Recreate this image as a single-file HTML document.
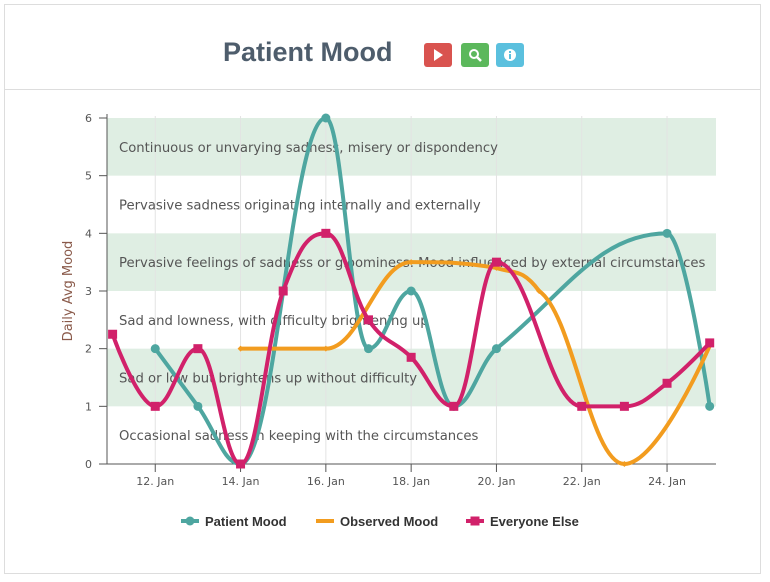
<!DOCTYPE html>
<html><head><meta charset="utf-8"><style>
body{margin:0;background:#fff;font-family:"Liberation Sans",sans-serif;}
#card{position:absolute;left:4px;top:4px;width:757px;height:570px;border:1px solid #ddd;box-sizing:border-box;}
#hdr{position:absolute;left:0;top:0;width:100%;height:84px;border-bottom:1px solid #ddd;}
#title{position:absolute;left:218px;top:32px;font-size:27px;font-weight:bold;color:#4e5d6c;}
.btn{position:absolute;top:38px;width:28px;height:24px;border-radius:3px;}
</style></head><body>
<div id="card">
<div id="hdr">
<div id="title">Patient Mood</div>
<div class="btn" style="left:419px;background:#d9534f"><svg width="28" height="24"><polygon points="10,6 19,12 10,18" fill="#fff"/></svg></div>
<div class="btn" style="left:456px;background:#5cb85c"><svg width="28" height="24"><circle cx="13" cy="11" r="4" fill="none" stroke="#fff" stroke-width="2"/><line x1="16" y1="14" x2="20" y2="18" stroke="#fff" stroke-width="2.5"/></svg></div>
<div class="btn" style="left:491px;background:#5bc0de"><svg width="28" height="24"><circle cx="14" cy="12" r="6" fill="#fff"/><rect x="13" y="11" width="2" height="5" fill="#5bc0de"/><rect x="13" y="8" width="2" height="2" fill="#5bc0de"/></svg></div>
</div>
</div>
<svg id="chart" width="770" height="582" style="position:absolute;left:0;top:0;font-family:'DejaVu Sans',sans-serif"></svg>
<script>
const days=[11,12,13,14,15,16,17,18,19,20,21,22,23,24,25];
const tickDays=[12,14,16,18,20,22,24];
const tickLabels=["12. Jan","14. Jan","16. Jan","18. Jan","20. Jan","22. Jan","24. Jan"];
const yTicks=[0,1,2,3,4,5,6];
const bandLabels=["Occasional sadness in keeping with the circumstances","Sad or low but brightens up without difficulty","Sad and lowness, with difficulty brightening up","Pervasive feelings of sadness or gloominess. Mood influenced by external circumstances","Pervasive sadness originating internally and externally","Continuous or unvarying sadness, misery or dispondency"];
const patientDays=[12,13,14,16,17,18,19,20,24,25];
const patientVals=[2,1,0,6,2,3,1,2,4,1];
const observedDays=[14,16,18,20,21,23,25];
const observedVals=[2,2,3.5,3.4,3,0,2.05];
const everyoneDays=[11,12,13,14,15,16,17,18,19,20,22,23,24,25];
const everyoneVals=[2.25,1,2,0,3,4,2.5,1.85,1,3.5,1,1,1.4,2.1];
const L=107,R=716,T=118,B=464;
const xS=d=>112.6+(d-11)*42.65;
const yS=v=>B-v*(B-T)/6;
const svg=document.getElementById('chart');
const NS='http://www.w3.org/2000/svg';
function mk(t,a,p){const e=document.createElementNS(NS,t);for(const k in a)e.setAttribute(k,a[k]);(p||svg).appendChild(e);return e;}
for(let i=0;i<6;i++){if(i%2===1){const r=mk('rect',{x:L,y:yS(i+1),width:R-L,height:yS(i)-yS(i+1),fill:'#dfeee3'});

}}
tickDays.forEach((d,i)=>{const l=mk('line',{x1:xS(d),x2:xS(d),y1:T-2,y2:B,stroke:'#e3e3e3'});


const t=mk('text',{x:xS(d),y:B+21,'text-anchor':'middle','font-size':11,fill:'#555'});t.textContent=tickLabels[i];


mk('line',{x1:xS(d),x2:xS(d),y1:B,y2:B+8,stroke:'#555'});});
yTicks.forEach(v=>{const t=mk('text',{x:L-15,y:yS(v)+4,'text-anchor':'end','font-size':11,fill:'#555'});t.textContent=v;


mk('line',{x1:L-8,x2:L,y1:yS(v),y2:yS(v),stroke:'#555'});});
mk('line',{x1:L,x2:L,y1:T-4,y2:B,stroke:'#555'});
mk('line',{x1:L,x2:R,y1:B,y2:B,stroke:'#555'});
const yt=mk('text',{x:72,y:291,'text-anchor':'middle','font-size':13,fill:'#8a5a4a',transform:'rotate(-90 72 291)'});yt.textContent='Daily Avg Mood';


bandLabels.forEach((s,i)=>{const t=mk('text',{x:119,y:yS(i+0.5)+5,'font-size':13.2,fill:'#555'});t.textContent=s;

});
function spline(pts){const sm=1.5,dn=sm+1;let d='M'+pts[0][0]+' '+pts[0][1];
const ctl=[];
for(let i=0;i<pts.length;i++){const [x,y]=pts[i];if(i===0||i===pts.length-1){ctl.push([[x,y],[x,y]]);continue;}
const [lx,ly]=pts[i-1],[nx,ny]=pts[i+1];let lcx=(sm*x+lx)/dn,lcy=(sm*y+ly)/dn,rcx=(sm*x+nx)/dn,rcy=(sm*y+ny)/dn;
const c=((rcy-lcy)*(rcx-x))/(rcx-lcx)+y-rcy;lcy+=c;rcy+=c;
if(lcy>ly&&lcy>y){lcy=Math.max(ly,y);rcy=2*y-lcy;}else if(lcy<ly&&lcy<y){lcy=Math.min(ly,y);rcy=2*y-lcy;}
if(rcy>ny&&rcy>y){rcy=Math.max(ny,y);lcy=2*y-rcy;}else if(rcy<ny&&rcy<y){rcy=Math.min(ny,y);lcy=2*y-rcy;}
ctl.push([[lcx,lcy],[rcx,rcy]]);}
for(let i=1;i<pts.length;i++){d+=` C${ctl[i-1][1][0]} ${ctl[i-1][1][1]} ${ctl[i][0][0]} ${ctl[i][0][1]} ${pts[i][0]} ${pts[i][1]}`;}
return d;}
function series(ds,vs,color,marker,name){const pts=ds.map((d,i)=>[xS(d),yS(vs[i])]);
const p=mk('path',{d:spline(pts),fill:'none',stroke:color,'stroke-width':4,'stroke-linejoin':'round'});


pts.forEach(([x,y])=>{let m;if(marker==='c')m=mk('circle',{cx:x,cy:y,r:4.5,fill:color});
else if(marker==='s')m=mk('rect',{x:x-4.5,y:y-4.5,width:9,height:9,fill:color});
else m=mk('polygon',{points:`${x},${y-3} ${x+3},${y} ${x},${y+3} ${x-3},${y}`,fill:color});

});}
series(patientDays,patientVals,'#4ea6a0','c','patient-mood');
series(observedDays,observedVals,'#f29c1f','d','observed-mood');
series(everyoneDays,everyoneVals,'#d1216a','s','everyone-else');
const leg=[['Patient Mood','#4ea6a0','c',181],['Observed Mood','#f29c1f','d',316],['Everyone Else','#d1216a','s',466]];
leg.forEach(([s,c,m,x])=>{const g=mk('g',{});


mk('line',{x1:x,x2:x+18,y1:521,y2:521,stroke:c,'stroke-width':4},g);
if(m==='c')mk('circle',{cx:x+9,cy:521,r:4.5,fill:c},g);else if(m==='s')mk('rect',{x:x+4.5,y:516.5,width:9,height:9,fill:c},g);
const t=mk('text',{x:x+24,y:526,'font-size':13,'font-weight':'bold',fill:'#333','font-family':'Liberation Sans, sans-serif'},g);t.textContent=s;});
</script>
</body></html>
